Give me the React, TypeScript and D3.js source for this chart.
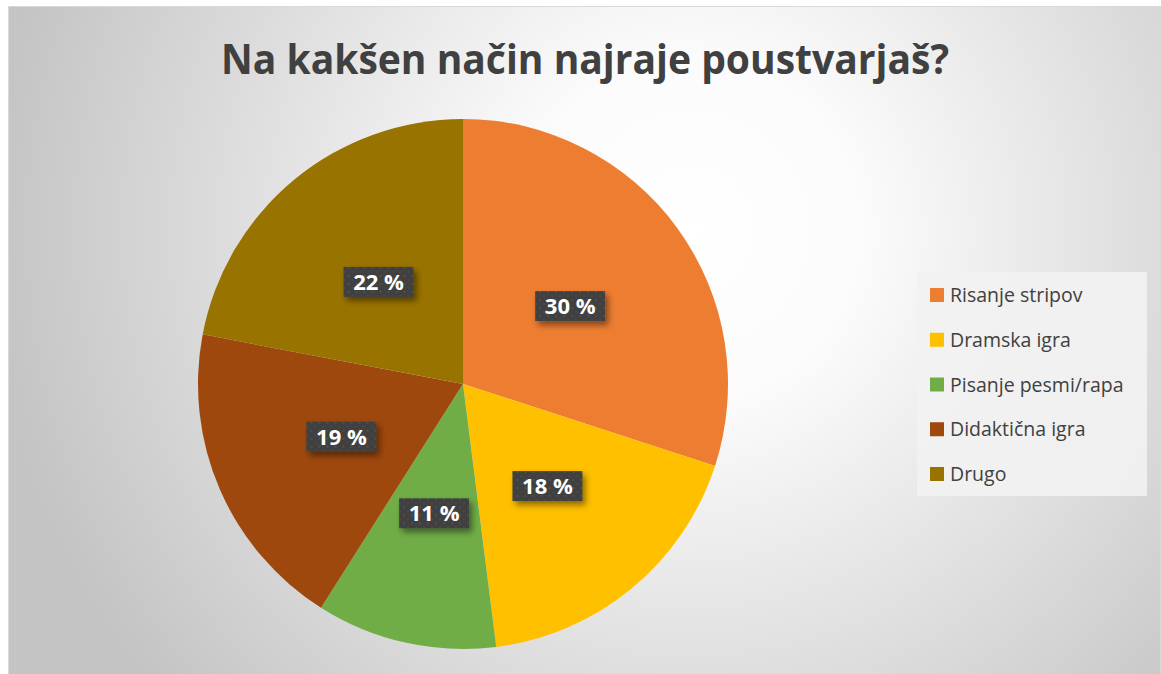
import React from 'react'
import * as d3 from 'd3'

// podatki
const categories = ['Risanje stripov', 'Dramska igra', 'Pisanje pesmi/rapa', 'Didaktična igra', 'Drugo']
const values = [30, 18, 11, 19, 22]
const colors = ['#ED7D31', '#FFC000', '#70AD47', '#9E480E', '#997300']
const title = 'Na kakšen način najraje poustvarjaš?'

const W = 1161
const H = 674

const App = () => {
	const cx = 463
	const cy = 384
	const radius = 265

	const pie = d3.pie<number>().sort(null).value(d => d)
	const arcs = pie(values)
	const arc = d3.arc<d3.PieArcDatum<number>>().innerRadius(0).outerRadius(radius)

	const total = d3.sum(values)

	const legendY = d3
		.scalePoint<string>()
		.domain(categories)
		.range([295, 474])

	return (
		<svg
			width={W}
			height={H}
			style={{ position: 'absolute', left: 0, top: 0, fontFamily: '"Open Sans", "Noto Sans", sans-serif' }}
		>
			<defs>
				<radialGradient id="bg" gradientUnits="userSpaceOnUse" cx={690} cy={230} r={700}>
					<stop offset="0" stopColor="#ffffff" />
					<stop offset="0.25" stopColor="#fbfbfb" />
					<stop offset="1" stopColor="#c4c4c4" />
				</radialGradient>
				<pattern id="dots" width={8} height={8} patternUnits="userSpaceOnUse">
					<rect width={8} height={8} fill="#404040" />
					<circle cx={2} cy={2} r={1} fill="#545454" />
					<circle cx={6} cy={6} r={1} fill="#4b4b4b" />
				</pattern>
				<filter id="shadow" x="-30%" y="-30%" width="160%" height="180%">
					<feDropShadow dx={3} dy={4} stdDeviation={3} floodColor="#000" floodOpacity={0.45} />
				</filter>
			</defs>

			<rect x={8.5} y={6.5} width={1152} height={668} fill="url(#bg)" stroke="#d9d9d9" />

			<text
				x={585}
				y={74}
				textAnchor="middle"
				fontSize={41}
				fontWeight="bold"
				fill="#404040"
				textLength={728}
				lengthAdjust="spacingAndGlyphs"
			>
				{title}
			</text>

			<g transform={`translate(${cx},${cy})`}>
				{arcs.map((d, i) => (
					<path key={i} d={arc(d) || ''} fill={colors[i]} />
				))}
				{arcs.map((d, i) => {
					const [x, y] = arc.centroid(d)
					const pct = Math.round((d.data / total) * 100) + ' %'
					return (
						<g key={'l' + i} transform={`translate(${x},${y})`}>
							<rect x={-35} y={-15} width={70} height={30} fill="url(#dots)" filter="url(#shadow)" />
							<text y={8} textAnchor="middle" fontSize={22} fontWeight="bold" fill="#ffffff">
								{pct}
							</text>
						</g>
					)
				})}
			</g>

			<rect x={917} y={272} width={230} height={224} fill="#f2f2f2" fillOpacity={0.9} />
			{categories.map((c, i) => {
				const y = legendY(c) as number
				return (
					<g key={c}>
						<rect x={930} y={y - 7} width={14} height={14} fill={colors[i]} />
						<text x={950} y={y + 7} fontSize={19.5} fill="#404040">
							{c}
						</text>
					</g>
				)
			})}
		</svg>
	)
}

export default App
